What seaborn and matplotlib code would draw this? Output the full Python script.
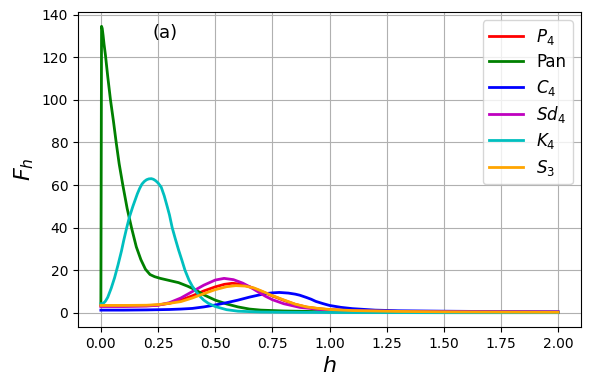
import matplotlib
matplotlib.use("Agg")
import matplotlib.pyplot as plt
import seaborn as sns
import pandas as pd

# ---- data ----
labels = ["$P_4$", "Pan", "$C_4$", "$Sd_4$", "$K_4$", "$S_3$"]
colors = ["red", "green", "blue", "m", "c", "orange"]

p4_x = [0, 0.1, 0.2, 0.25, 0.3, 0.35, 0.4, 0.45, 0.5, 0.54, 0.575, 0.61, 0.65, 0.7, 0.75,
        0.8, 0.85, 0.9, 0.95, 1.0, 1.1, 1.3, 1.5, 1.75, 2.0]
p4_y = [3.3, 3.3, 3.4, 3.7, 4.5, 6.0, 8.0, 10.3, 12.2, 13.4, 13.9, 13.5, 12.3, 10.2, 8.0,
        5.9, 4.0, 2.7, 2.0, 1.5, 1.1, 0.7, 0.5, 0.4, 0.3]

pan_x = [0, 0.003, 0.006, 0.01, 0.014, 0.02, 0.03, 0.042, 0.055, 0.067, 0.08, 0.096, 0.115,
         0.134, 0.155, 0.175, 0.195, 0.215, 0.235, 0.26, 0.3, 0.34, 0.38, 0.414, 0.45, 0.5,
         0.55, 0.6, 0.65, 0.7, 0.8, 0.9, 1.0, 1.25, 1.5, 2.0]
pan_y = [4.0, 134.5, 133.5, 130, 126, 121, 111, 100, 90, 80, 70, 60, 49,
         40, 31, 25, 20.5, 18, 17, 16.2, 15.2, 14.2, 12.5, 10.8, 8.5, 6.0,
         4.2, 2.8, 1.8, 1.3, 0.9, 0.7, 0.5, 0.35, 0.25, 0.15]

c4_x = [0, 0.1, 0.2, 0.3, 0.35, 0.4, 0.45, 0.5, 0.55, 0.6, 0.65, 0.675, 0.7, 0.725, 0.75,
        0.78, 0.82, 0.85, 0.87, 0.9, 0.92, 0.94, 0.97, 1.0, 1.05, 1.1, 1.2, 1.3, 1.5,
        1.75, 2.0]
c4_y = [1.3, 1.3, 1.4, 1.6, 1.8, 2.1, 2.8, 3.7, 4.8, 6.0, 7.4, 8.0, 8.6, 9.1, 9.4,
        9.6, 9.3, 8.8, 8.3, 7.2, 6.4, 5.4, 4.4, 3.5, 2.6, 2.0, 1.3, 1.0, 0.8,
        0.6, 0.5]

sd4_x = [0, 0.1, 0.2, 0.25, 0.3, 0.35, 0.4, 0.45, 0.5, 0.539, 0.58, 0.62, 0.65, 0.686,
         0.72, 0.75, 0.8, 0.87, 0.95, 1.0, 1.1, 1.3, 1.5, 2.0]
sd4_y = [3.0, 3.0, 3.2, 3.6, 4.8, 7.0, 10.0, 13.0, 15.4, 16.2, 15.6, 14.0, 12.3, 10.0,
         7.8, 6.2, 4.3, 2.6, 1.7, 1.3, 1.0, 0.7, 0.6, 0.4]

k4_x = [0, 0.01, 0.02, 0.03, 0.045, 0.06, 0.075, 0.09, 0.1, 0.112, 0.125, 0.14, 0.15,
        0.16, 0.17, 0.18, 0.19, 0.2, 0.21, 0.221, 0.23, 0.24, 0.25, 0.264, 0.277, 0.29,
        0.3, 0.312, 0.325, 0.34, 0.355, 0.368, 0.385, 0.4, 0.42, 0.436, 0.45, 0.47, 0.5,
        0.55, 0.6, 0.7, 0.8, 1.0, 1.5, 2.0]
k4_y = [4.3, 4.4, 5.5, 7.3, 11.5, 16.5, 22.5, 29.0, 34.0, 39.5, 45.0, 50.0, 53.0,
        56.0, 58.5, 60.5, 61.7, 62.5, 62.9, 63.0, 62.7, 62.0, 61.0, 59.0, 55.0, 50.0,
        46.0, 40.0, 35.0, 29.5, 24.5, 20.0, 15.5, 12.5, 9.5, 7.5, 6.0, 4.5, 3.0,
        1.5, 0.8, 0.4, 0.3, 0.2, 0.1, 0.1]

s3_x = [0, 0.1, 0.2, 0.25, 0.3, 0.35, 0.4, 0.45, 0.5, 0.55, 0.59, 0.63, 0.67, 0.7, 0.75,
        0.8, 0.85, 0.9, 0.95, 1.0, 1.1, 1.3, 1.5, 1.75, 2.0]
s3_y = [3.5, 3.5, 3.6, 3.9, 4.5, 5.3, 7.0, 9.0, 10.9, 12.3, 12.8, 12.6, 11.7, 10.4, 8.1,
        6.1, 4.1, 2.8, 2.1, 1.6, 1.1, 0.7, 0.5, 0.4, 0.3]

series = [(p4_x, p4_y), (pan_x, pan_y), (c4_x, c4_y), (sd4_x, sd4_y), (k4_x, k4_y), (s3_x, s3_y)]

frames = []
for lab, (xs, ys) in zip(labels, series):
    frames.append(pd.DataFrame({"h": xs, "F": ys, "series": lab}))
df = pd.concat(frames, ignore_index=True)

fig = plt.figure(figsize=(5.9, 3.89), dpi=100)
ax = fig.add_axes([78 / 590, 1 - 327 / 389, (581 - 78) / 590, (327 - 12) / 389])

sns.lineplot(data=df, x="h", y="F", hue="series", hue_order=labels,
             palette=dict(zip(labels, colors)), linewidth=2, estimator=None,
             sort=False, ax=ax)

ax.grid(True, color="#b0b0b0", linewidth=0.8)
ax.set_axisbelow(True)
ax.set_xlabel("$h$", fontsize=16)
ax.set_ylabel("$F_h$", fontsize=16)
ax.set_xticks([0, 0.25, 0.5, 0.75, 1.0, 1.25, 1.5, 1.75, 2.0])
ax.set_xticklabels(["0.00", "0.25", "0.50", "0.75", "1.00", "1.25", "1.50", "1.75", "2.00"])
ax.set_yticks([0, 20, 40, 60, 80, 100, 120, 140])
ax.tick_params(labelsize=10)
ax.text(0.173, 0.933, "(a)", transform=ax.transAxes, ha="center", va="center", fontsize=13)
ax.legend(loc="upper right", fontsize=12, title=None, labelspacing=0.38)

fig.savefig("out.png", dpi=100)
